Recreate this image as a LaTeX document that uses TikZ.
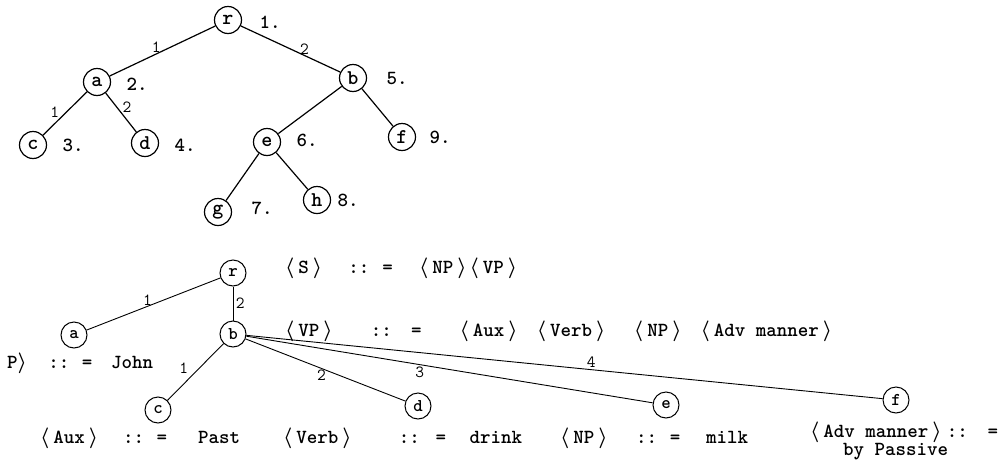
\documentclass[tikz,border=0pt]{standalone}
\usepackage{tikz}
\newcommand{\lb}[1]{$\langle$\kern4pt#1\kern4pt$\rangle$}
\newcommand{\gap}[1]{\hspace{0pt plus #1fill}}
\tikzset{
  tnode/.style={circle, draw, line width=1.2pt, minimum size=27pt, inner sep=0pt, font=\ttfamily\bfseries\fontsize{21}{21}\selectfont},
  bnode/.style={circle, draw, line width=1pt, minimum size=26pt, inner sep=0pt, font=\ttfamily\bfseries\fontsize{18}{18}\selectfont},
  num/.style={font=\ttfamily\bfseries\fontsize{20}{20}\selectfont, inner sep=0pt},
  elab/.style={font=\ttfamily\fontsize{17}{17}\selectfont, inner sep=0.5pt},
  rulet/.style={font=\ttfamily\bfseries\boldmath\fontsize{20}{20}\selectfont, inner sep=0pt, anchor=west},
  tedge/.style={line width=1.2pt},
  bedge/.style={line width=0.9pt},
}
\begin{document}
\begin{tikzpicture}[x=1pt,y=-1pt]
\useasboundingbox (0,0) rectangle (1001,461);
% ---------- top tree ----------
\node[tnode] (r) at (228,20) {r};
\node[tnode] (a) at (97,82) {a};
\node[tnode] (b) at (353,78) {b};
\node[tnode] (c) at (33,145) {c};
\node[tnode] (d) at (145,143) {d};
\node[tnode] (e) at (267,142) {e};
\node[tnode] (f) at (402,137) {f};
\node[tnode] (g) at (218,212) {g};
\node[tnode] (h) at (317,200) {h};
\node[num] (n1) at (270,22) {1.};
\node[num] (n2) at (137,84) {2.};
\node[num] (n3) at (73,145) {3.};
\node[num] (n4) at (185,145) {4.};
\node[num] (n5) at (397,78) {5.};
\node[num] (n6) at (307,140) {6.};
\node[num] (n7) at (262,208) {7.};
\node[num] (n8) at (348,200) {8.};
\node[num] (n9) at (440,137) {9.};
\draw[tedge] (r) -- node[elab, pos=0.56, above] {1} (a);
\draw[tedge] (r) -- node[elab, pos=0.64, above] {2} (b);
\draw[tedge] (a) -- node[elab, pos=0.61, above left] {1} (c);
\draw[tedge] (a) -- node[elab, pos=0.52, above right] {2} (d);
\draw[tedge] (b) -- (e);
\draw[tedge] (b) -- (f);
\draw[tedge] (e) -- (g);
\draw[tedge] (e) -- (h);
% ---------- bottom tree ----------
\node[bnode] (R) at (233,273) {r};
\node[bnode] (A) at (74,335) {a};
\node[bnode] (B) at (233,334) {b};
\node[bnode] (C) at (158,410) {c};
\node[bnode] (D) at (418,406) {d};
\node[bnode] (E) at (666,405) {e};
\node[bnode] (F) at (896,400) {f};
\draw[bedge] (R) -- node[elab, pos=0.545, above] {1} (A);
\draw[bedge] (R) -- node[elab, pos=0.5, right=2pt] {2} (B);
\draw[bedge] (B) -- node[elab, pos=0.58, above left=2pt] {1} (C);
\draw[bedge] (B) -- node[elab, pos=0.475, below=1pt] {2} (D);
\draw[bedge] (B) -- node[elab, pos=0.427, below=1pt] {3} (E);
\draw[bedge] (B) -- node[elab, pos=0.542, above=1pt] {4} (F);
% ---------- rules ----------
\node[rulet] (ts) at (285,268) {\makebox[232pt]{\lb{S}\gap{2}::\gap{1}=\gap{2}\lb{NP}\kern3pt\lb{VP}}};
\node[rulet] (tvp) at (285,331) {\makebox[547pt]{\lb{VP}\gap{2}::\gap{1}=\gap{2}\lb{Aux}\gap{1}\lb{Verb}\gap{1.5}\lb{NP}\gap{1}\lb{Adv manner}}};
\node[rulet] (tj) at (7,363) {\makebox[146pt]{P$\rangle$\gap{1.7}::\gap{1}=\gap{1.5}John}};
\node[rulet] (taux) at (40,438) {\makebox[200pt]{\lb{Aux}\gap{2}::\gap{1}=\gap{2.5}Past}};
\node[rulet] (tverb) at (283,438) {\makebox[239pt]{\lb{Verb}\gap{3}::\gap{1}=\gap{1.5}drink}};
\node[rulet] (tnp) at (560,438) {\makebox[188pt]{\lb{NP}\gap{2.2}::\gap{1}=\gap{2}milk}};
\node[rulet] (tadv) at (810,432) {\makebox[188pt]{\lb{Adv manner}\kern5pt::\gap{1}=}};
\node[rulet] (tby) at (843,452) {by Passive};
\end{tikzpicture}
\end{document}
